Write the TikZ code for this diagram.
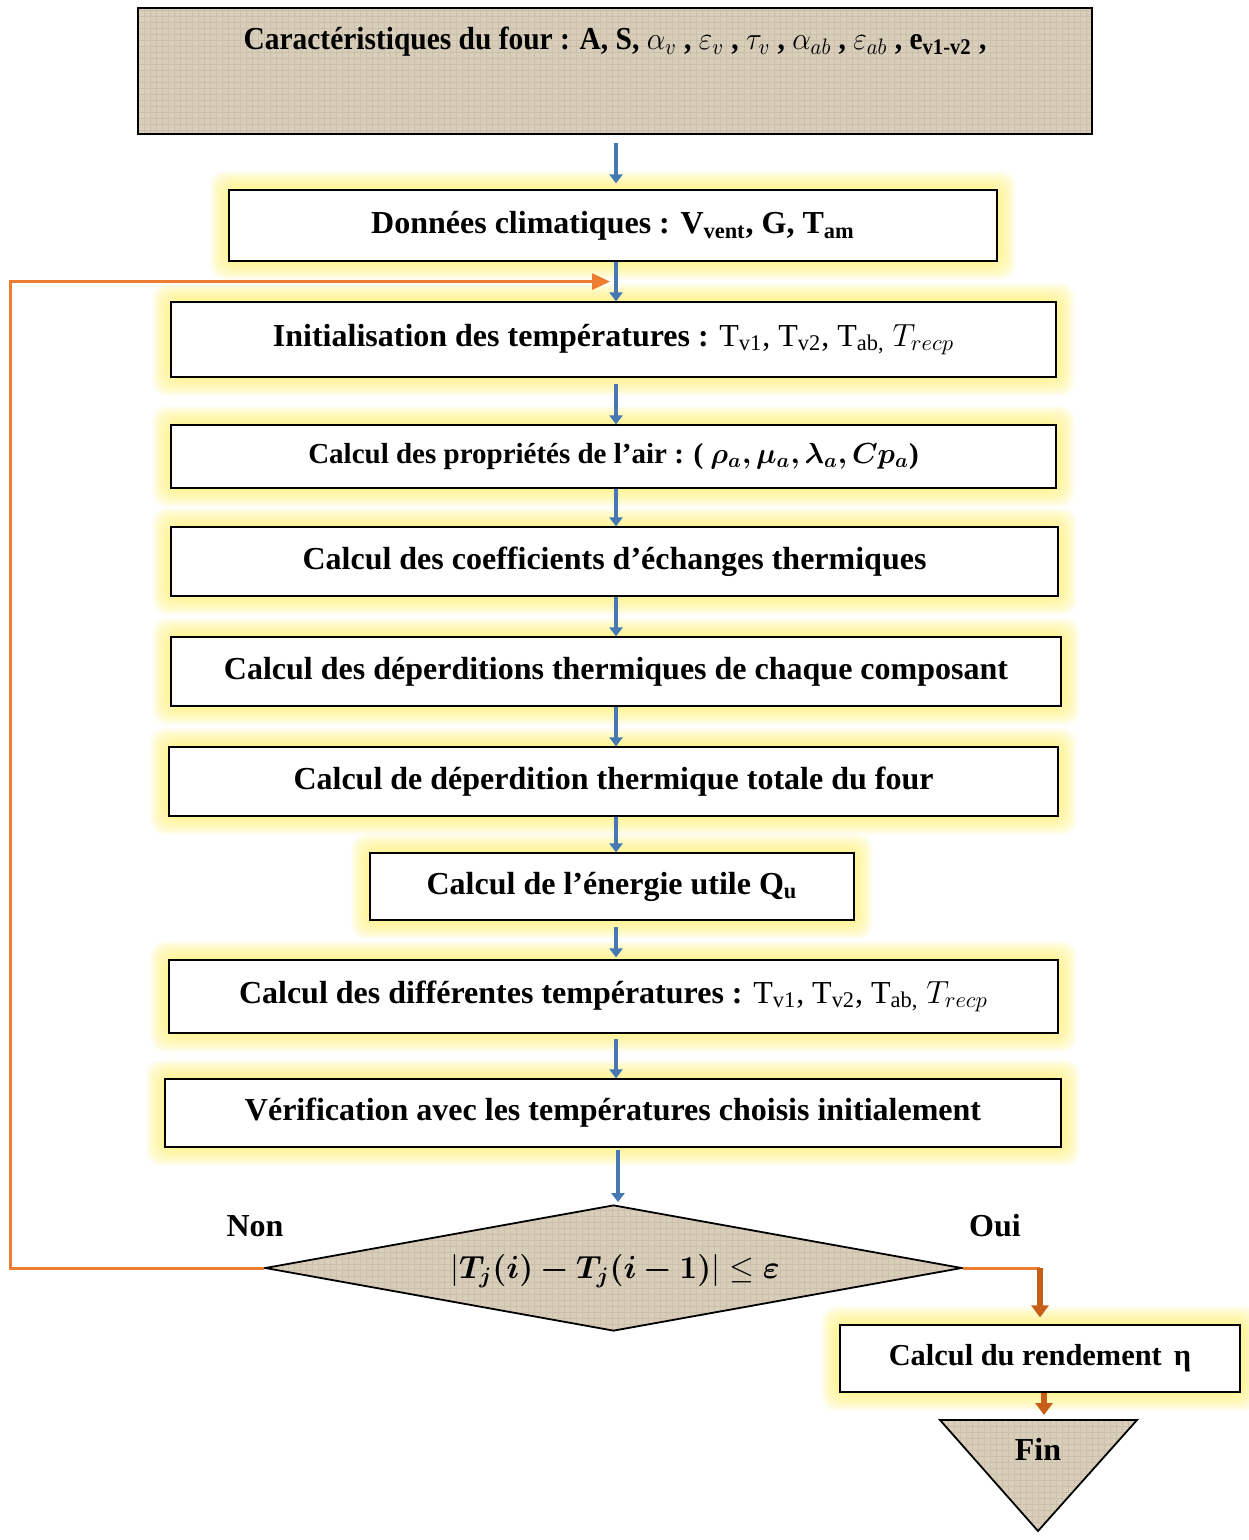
\RequirePackage{fix-cm}
\documentclass[tikz,border=0pt]{standalone}
\usepackage{amsmath}
\usepackage{bm}
\usepackage{fontspec}
\setmainfont{Liberation Serif}
\usetikzlibrary{arrows.meta,calc,backgrounds,shapes.geometric,patterns}
\definecolor{beige}{RGB}{216,206,186}
\definecolor{beigedark}{RGB}{202,192,172}
\definecolor{glowy}{RGB}{255,240,110}
\definecolor{bluearr}{RGB}{70,120,180}
\definecolor{orl}{RGB}{237,125,49}
\definecolor{ord}{RGB}{200,95,25}
\begin{document}
\begin{tikzpicture}[x=0.5pt,y=-0.5pt,
  box/.style={draw=black,line width=0.6pt,fill=white,rectangle,inner sep=0pt,
    font=\bfseries\fontsize{16}{19}\selectfont},
  texfill/.style={preaction={fill=beige},preaction={pattern=grid,pattern color=beigedark}},
  barrow/.style={bluearr,line width=2.4pt,-{Triangle[length=4.5pt,width=6.5pt]}},
  oline/.style={orl,line width=1.5pt},
  oarrow/.style={ord,line width=3.2pt,-{Triangle[length=6pt,width=8.5pt]}},
  lbl/.style={font=\bfseries\fontsize{16}{19}\selectfont}]
\useasboundingbox (0,0) rectangle (1248,1540);
\coordinate (ax) at (616,0);
\coordinate (lx) at (10,0);
\coordinate (ox) at (1040,0);

% top box
\node[draw=black,line width=0.6pt,texfill,rectangle,inner sep=0pt,
  minimum width=477pt,minimum height=63pt] (top) at (615,71) {};
\node[lbl,inner sep=0pt] (toptxt) at (615,42) {\scalebox{0.92}[1]{Caractéristiques du four : A, S, $\alpha_v$ , $\varepsilon_v$ , $\tau_v$ , $\alpha_{ab}$ , $\varepsilon_{ab}$ , e\textsubscript{v1-v2} ,}};

\node[box,minimum width=384pt,minimum height=35.5pt] (b2) at (613,225.5)
  {Données climatiques : V\textsubscript{vent}, G, T\textsubscript{am}};
\node[box,minimum width=442.5pt,minimum height=37.5pt] (b3) at (613.5,339.5)
  {Initialisation des températures : {\mdseries T\textsubscript{v1}, T\textsubscript{v2}, T\textsubscript{ab,}} $T_{recp}$};
\node[box,minimum width=442.5pt,minimum height=31.5pt,font=\bfseries\fontsize{14.5}{17}\selectfont] (b4) at (613.5,456.5)
  {Calcul des propriétés de l’air : ( $\bm{\rho_a,\mu_a,\lambda_a,Cp_a}$)};
\node[box,minimum width=443.5pt,minimum height=34.5pt] (b5) at (614.5,561.5)
  {Calcul des coefficients d’échanges thermiques};
\node[box,minimum width=445pt,minimum height=34.5pt] (b6) at (616,671.5)
  {Calcul des déperditions thermiques de chaque composant};
\node[box,minimum width=444.5pt,minimum height=34.5pt] (b7) at (613.5,781.5)
  {Calcul de déperdition thermique totale du four};
\node[box,minimum width=242pt,minimum height=33.5pt] (b8) at (612,886.5)
  {Calcul de l’énergie utile Q\textsubscript{u}};
\node[box,minimum width=444.5pt,minimum height=36.5pt] (b9) at (613.5,996.5)
  {Calcul des différentes températures : {\mdseries T\textsubscript{v1}, T\textsubscript{v2}, T\textsubscript{ab,}} $T_{recp}$};
\node[box,minimum width=448pt,minimum height=34pt] (b10) at (613,1113)
  {Vérification avec les températures choisis initialement};

% decision
\node[draw=black,line width=0.9pt,texfill,diamond,aspect=5.5,inner sep=0pt,
  minimum width=348.5pt,minimum height=63pt] (dec) at (613.5,1268) {};
\node[lbl] (dectxt) at (615,1271) {$\left|\bm{T_j(i)-T_j(i-1)}\right|\leq\bm{\varepsilon}$};
\node[lbl] (non) at (255,1226) {Non};
\node[lbl] (oui) at (995,1226) {Oui};

\node[box,minimum width=200pt,minimum height=33.5pt,font=\bfseries\fontsize{15.2}{18}\selectfont] (b11) at (1040,1358.5)
  {Calcul du rendement\hspace{0.4em}η};

% end triangle
\coordinate (fa) at (940,1420);
\coordinate (fb) at (1137,1420);
\coordinate (fc) at (1038,1531);
\draw[draw=black,line width=0.9pt,texfill] (fa) -- (fb) -- (fc) -- cycle;
\node[lbl] (fin) at (1038,1449) {Fin};

% glow
\begin{scope}[on background layer]
\foreach \n in {b2,b3,b4,b5,b6,b7,b8,b9,b10,b11}{
  \foreach \i in {1,...,9}{
    \fill[glowy,opacity=0.12,rounded corners=7pt]
      ($(\n.south west)+(-2*\i,2*\i)$) rectangle ($(\n.north east)+(2*\i,-2*\i)$);
  }
}
\end{scope}

% blue arrows
\draw[barrow,shorten <=4pt,shorten >=3pt] (top.south -| ax) -- (b2.north -| ax);
\draw[barrow] (b2.south -| ax) -- (b3.north -| ax);
\draw[barrow,shorten <=3pt] (b3.south -| ax) -- (b4.north -| ax);
\draw[barrow] (b4.south -| ax) -- (b5.north -| ax);
\draw[barrow] (b5.south -| ax) -- (b6.north -| ax);
\draw[barrow] (b6.south -| ax) -- (b7.north -| ax);
\draw[barrow] (b7.south -| ax) -- (b8.north -| ax);
\draw[barrow,shorten <=3pt,shorten >=1pt] (b8.south -| ax) -- (b9.north -| ax);
\draw[barrow,shorten <=2.5pt] (b9.south -| ax) -- (b10.north -| ax);
\coordinate (ax2) at (618,0);
\draw[barrow,shorten <=1pt,shorten >=1pt] (b10.south -| ax2) -- (dec.north -| ax2);

% feedback loop
\coordinate (loopin) at ($(b2.south -| ax)+(-6,20)$);
\draw[oline,-{Triangle[length=9pt,width=8pt]}] (dec.west) -- (dec.west -| lx) |- (loopin);

% oui branch
\draw[oline] (dec.east) -- (dec.east -| ox);
\draw[oarrow,shorten >=3.5pt] (dec.east -| ox) -- (b11.north -| ox);
\coordinate (ox2) at (1044,0);
\draw[oarrow,shorten >=2.5pt] (b11.south -| ox2) -- (fa -| ox2);
\end{tikzpicture}
\end{document}
